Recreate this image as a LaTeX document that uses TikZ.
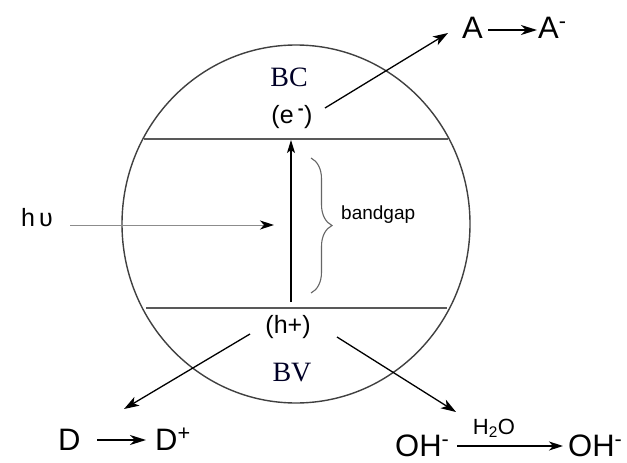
\documentclass[tikz,border=0pt]{standalone}
\usepackage{fontspec}
\setmainfont{Liberation Serif}
\setsansfont{Liberation Sans}
\usetikzlibrary{arrows.meta,decorations.pathreplacing}
\begin{document}
\begin{tikzpicture}[x=1pt,y=-1pt,
  big/.style={font=\sffamily\fontsize{31}{31}\selectfont, inner sep=0pt, anchor=base west},
  mid/.style={font=\sffamily\fontsize{25}{25}\selectfont, inner sep=0pt},
  bandlbl/.style={font=\rmfamily\fontsize{28}{28}\selectfont, inner sep=0pt, text=black!85!blue},
  arr/.style={line width=1.3pt, -{Stealth[length=15pt,width=10pt,inset=4pt]}},
  shortarr/.style={line width=1.5pt, -{Stealth[length=16pt,width=10pt,inset=5pt]}},
  gline/.style={draw=black!65, line width=1.5pt}
]
\useasboundingbox (0,0) rectangle (627,463);
\fill[white] (0,0) rectangle (627,463);

% particle
\draw[draw=black!75, line width=1.4pt] (296,224) ellipse [x radius=174, y radius=179];
\draw[gline] (144,139) -- (448,139);
\draw[gline] (146,308) -- (447,308);

% band labels
\node[bandlbl] (BC) at (289,77) {BC};
\node[mid] (e) at (292,117) {(e\,\textsuperscript{\textbf{-}})};
\node[mid] (hp) at (288,327) {(h+)};
\node[bandlbl] (BV) at (292,373) {BV};

% excitation
\coordinate (vb) at (291,302);
\coordinate (cb) at (291,140);
\draw[line width=1.4pt, -{Stealth[length=13pt,width=8pt,inset=3pt]}] (vb) -- (cb);

% light
\node[font=\sffamily\fontsize{25}{25}\selectfont, inner sep=0pt] (hv) at (37,218) {h\,υ};
\coordinate (hvstart) at (70,225);
\coordinate (hvend) at (274,225);
\draw[draw=black!45, line width=1pt, -{Stealth[length=14pt,width=9pt,inset=4pt,color=black]}] (hvstart) -- (hvend);

% bandgap brace
\coordinate (bt) at (311,158);
\coordinate (bb) at (311,293);
\draw[draw=black!60, line width=1.1pt, decorate, decoration={brace, amplitude=21pt}] (bt) -- (bb);
\node[font=\sffamily\fontsize{19}{19}\selectfont, inner sep=0pt, anchor=west] (bg) at (341,215) {bandgap};

% acceptor
\node[big] (A1) at (462,38) {A};
\node[big] (A2) at (538,38) {A\textsuperscript{-}};
\coordinate (eout) at (325,108);
\coordinate (ain) at (448,33);
\draw[arr] (eout) -- (ain);
\coordinate (a1e) at (488,30);
\coordinate (a2w) at (537,30);
\draw[shortarr] (a1e) -- (a2w);

% donor
\node[big] (D1) at (58,450) {D};
\node[big] (D2) at (155,450) {D\textsuperscript{+}};
\coordinate (hout1) at (250,334);
\coordinate (din) at (124,409);
\draw[arr] (hout1) -- (din);
\coordinate (d1e) at (97,440);
\coordinate (d2w) at (146,440);
\draw[shortarr] (d1e) -- (d2w);

% hydroxyl
\node[big] (OH1) at (395,456) {OH\textsuperscript{-}};
\node[big] (OH2) at (568,456) {OH\textsuperscript{-}};
\coordinate (hout2) at (337,337);
\coordinate (ohin) at (456,412);
\draw[arr] (hout2) -- (ohin);
\coordinate (o1e) at (457,446);
\coordinate (o2w) at (563,446);
\draw[line width=1.5pt, -{Stealth[length=14pt,width=9pt,inset=4pt]}] (o1e) -- (o2w);
\node[font=\sffamily\fontsize{22}{22}\selectfont, inner sep=0pt, anchor=base] (H2O) at (494,434) {H\textsubscript{2}O};
\end{tikzpicture}
\end{document}
